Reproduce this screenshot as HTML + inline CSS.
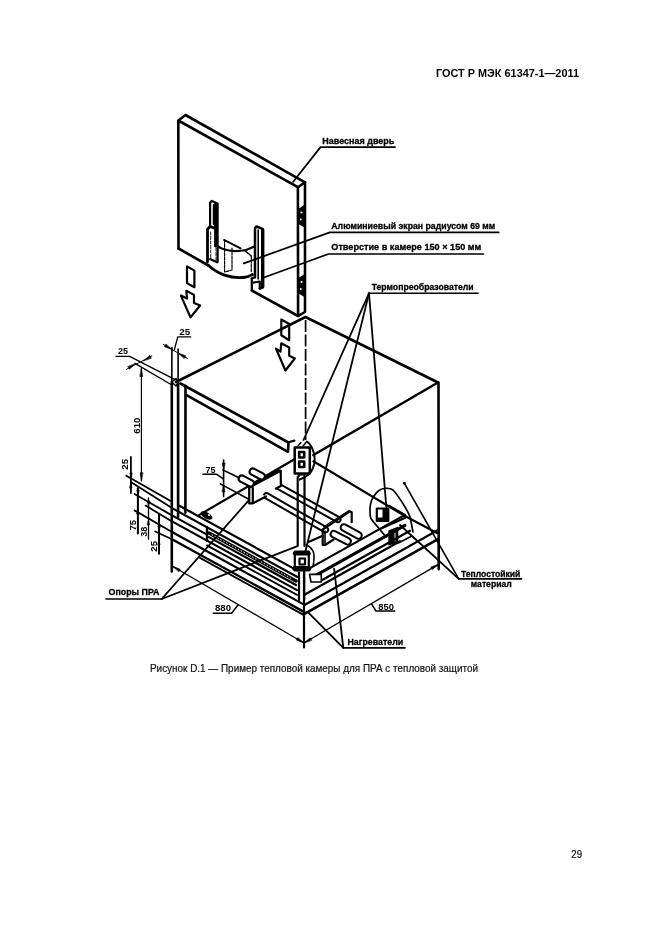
<!DOCTYPE html>
<html><head><meta charset="utf-8">
<style>
html,body{margin:0;padding:0;background:#fff;}
body{width:661px;height:936px;overflow:hidden;position:relative;}
svg{position:absolute;left:0;top:0;will-change:transform;}
</style></head>
<body>
<svg width="661" height="936" viewBox="0 0 661 936">
<g font-family="'Liberation Sans', sans-serif" fill="none" stroke="#000" stroke-linecap="round" stroke-linejoin="round">
<text x="436" y="76.5" font-size="10.4" font-weight="bold" fill="#000" textLength="143" lengthAdjust="spacingAndGlyphs" stroke="none">ГОСТ Р МЭК 61347-1—2011</text>
<text x="150" y="672" font-size="10.1" font-weight="normal" fill="#111" textLength="328" lengthAdjust="spacingAndGlyphs" stroke="#111" stroke-width="0.2">Рисунок D.1 — Пример тепловой камеры для ПРА с тепловой защитой</text>
<text x="571.3" y="857.8" font-size="10" font-weight="normal" fill="#111" textLength="10.8" lengthAdjust="spacingAndGlyphs" stroke="#111" stroke-width="0.2">29</text>
<path d="M178.5,248.5 L178.3,120.5 L185.5,115.0 L305.0,182.3 L297.9,187.2 L178.3,120.5" stroke-width="2.6" />
<path d="M297.9,187.2 L298.1,316.0 L305.0,312.0 L305.0,182.3" stroke-width="2.6" />
<path d="M251.8,290.5 L298.1,316.0" stroke-width="2.6" />
<path d="M178.5,248.5 L208.5,265.5" stroke-width="2.6" />
<path d="M251.8,278.5 L251.8,290.5" stroke-width="2.2" />
<path d="M298.5,209 L304.5,204.5 L304.5,227.5 L298.5,224 Z M298.5,278 L304.5,274 L304.5,297 L298.5,293.5 Z" fill="#000" stroke="none"/>
<g fill="#fff" stroke="none"><circle cx="301.5" cy="212.5" r="1.1"/><circle cx="300.8" cy="219.5" r="0.9"/><circle cx="301.5" cy="282" r="1.1"/><circle cx="300.8" cy="289" r="0.9"/></g>
<path d="M210.1,226.5 L210.1,202.5 L211.8,200.9 L217.6,203.5 L217.6,262.0" stroke-width="2.2" />
<path d="M213.9,205.0 L213.9,224.0" stroke-width="2.2" />
<path d="M207.5,262.0 L207.5,229.2 L210.1,226.5 L214.0,228.0" stroke-width="2.8" />
<path d="M210.1,259.1 L217.1,262.3" stroke-width="2.2" />
<path d="M215.6,204.0 L215.6,246.0" stroke-width="3.0" />
<path d="M210.7,232 V258 M216,248 V260" stroke-width="0.9" stroke-dasharray="3,1.5"/>
<path d="M208.5,265.5 C212,268.5 218,273 224.6,275.1 C230,277 238,278 244.9,277.3 C248,277 250.5,275.6 252.4,274.6" stroke-width="2.9" />
<path d="M217.6,246.3 C220,247.8 222,248.8 224.6,249.5 C229,250.6 232,251.1 235.3,251.1 C240,251 243,250.6 245.9,250 C249,249 252,247.6 254,246.8" stroke-width="2.2" />
<path d="M224.0,239.9 L240.6,248.4" stroke-width="1.8" />
<path d="M244.9,250.6 L251.3,256.0" stroke-width="1.4" />
<path d="M224.6,240 V272 L232,270 V248" stroke-width="1.2" stroke-dasharray="3,1.2"/>
<path d="M251.3,256 V272" stroke-width="1.2" stroke-dasharray="3,1.2"/>
<path d="M255.0,277.3 L255.0,228.1 L256.6,226.5 L263.0,229.2 L263.0,287.0 L259.8,288.5" stroke-width="2.5" />
<path d="M258.2,230.0 L258.2,279.0" stroke-width="1.6" />
<path d="M251.8,278.5 L255,277.3 M253.4,282.6 L259.8,281.5 L259.8,288.5" stroke-width="2.2" />
<path d="M262.6,230.0 L262.6,287.0" stroke-width="3.2" />
<path d="M187.0,266.4 L194.4,270.6 L194.4,287.2 L187.0,283.1 Z" stroke-width="2.2" />
<path d="M186.3,290.8 L194.0,294.9 L194.0,303.0 L200.1,305.5 L190.5,317.4 L180.9,295.6 L187.0,298.5 Z" stroke-width="2.2" />
<path d="M281.3,319.5 L289.2,324.0 L289.2,340.3 L281.3,335.3 Z" stroke-width="2.2" />
<path d="M281.3,343.3 L289.2,347.4 L289.2,355.8 L294.9,358.4 L285.4,370.5 L276.0,348.6 L280.5,351.6 Z" stroke-width="2.2" />
<path d="M293.2,181.8 L320.5,147.1 L395.0,147.1" stroke-width="1.8" />
<path d="M243.8,263.4 L329.8,232.4 L498.7,232.4" stroke-width="1.7" />
<path d="M263.2,277.7 L328.5,254.0 L483.5,254.0" stroke-width="1.7" />
<text x="322.3" y="143.7" font-size="9.2" font-weight="bold" fill="#000" textLength="72" lengthAdjust="spacingAndGlyphs" stroke="#000" stroke-width="0.3">Навесная дверь</text>
<text x="331.3" y="228.6" font-size="9.2" font-weight="bold" fill="#000" textLength="164" lengthAdjust="spacingAndGlyphs" stroke="#000" stroke-width="0.3">Алюминиевый экран радиусом 69 мм</text>
<text x="331.3" y="249.5" font-size="9.2" font-weight="bold" fill="#000" textLength="150" lengthAdjust="spacingAndGlyphs" stroke="#000" stroke-width="0.3">Отверстие в камере 150 × 150 мм</text>
<path d="M176.0,382.0 L305.5,317.0 L438.0,382.5 L313.4,455.0" stroke-width="2.6" />
<path d="M438.5,382.5 L438.7,569.2" stroke-width="2.6" />
<path d="M180.4,383.5 L288.5,442.5 L288.0,451.8 L186.1,394.8" stroke-width="2.6" />
<path d="M288.5,442.2 L294.4,440.6" stroke-width="2.2" />
<path d="M171.8,382.0 L171.8,571.4" stroke-width="2.6" />
<path d="M178.1,383.0 L178.1,517.0" stroke-width="2.6" />
<path d="M185.5,385.7 L185.4,512.6" stroke-width="2.6" />
<path d="M171.8,382.0 L176.0,378.5 L178.1,383.0 L176.0,386.0 Z" stroke-width="1.6" />
<path d="M171.9,347.5 L171.8,382.0" stroke-width="1.6" />
<path d="M178.1,349.0 L178.1,382.0" stroke-width="1.6" />
<path d="M305.6,320 V440" stroke-width="1.7" stroke-dasharray="12,2.5" stroke-linecap="butt"/>
<path d="M264.7,497.8 L324.7,532.3 A2.7,2.7 0 0 0 327.3,527.7 L267.3,493.2 A2.7,2.7 0 0 0 264.7,497.8 Z" stroke-width="2.0" fill="#fff"/>
<path d="M274.7,487.3 L336.7,521.8 A2.6,2.6 0 0 0 339.3,517.2 L277.3,482.7 A2.6,2.6 0 0 0 274.7,487.3 Z" stroke-width="2.0" fill="#fff"/>
<path d="M294.7,447.5 h15.1 v26.1 h-15.1 Z" stroke-width="2.5" />
<path d="M299.2,452 h5 v5.5 h-5 Z M299.2,461.5 h5 v5.5 h-5 Z" stroke-width="2.6" />
<path d="M306.8,441.5 C311,444 314.7,452 314.7,459 C314.7,467 311,473 308,475 C305,477.5 302,478.5 299.5,479.6" stroke-width="2.0" />
<path d="M298,446 L301,442.5 M303,446 L306,442.5" stroke-width="1.4" />
<path d="M297.7,546.0 L297.7,477.0 L300.0,474.5 L304.5,474.5 L304.5,546.0" stroke-width="2.2" />
<path d="M199.0,515.1 L294.4,459.2" stroke-width="2.2" />
<path d="M313.4,461.3 L405.4,516.3" stroke-width="2.2" />
<path d="M405.4,516.3 L437.0,533.0" stroke-width="2.2" />
<path d="M309.0,541.8 L322.7,535.8" stroke-width="2.2" />
<path d="M294.8,551.5 h14 v19 h-14 Z" stroke-width="2.2" />
<path d="M299.5,558.5 h5.5 v6 h-5.5 Z" stroke-width="2.2" />
<path d="M294.8,553.5 L308.8,553.5" stroke-width="4" />
<path d="M294.8,568.5 L308.8,568.5" stroke-width="5" />
<path d="M299.0,572.6 L299.0,600.0" stroke-width="2.2" />
<path d="M304.2,572.6 L304.2,600.0" stroke-width="2.2" />
<path d="M306.3,544.5 C312,548 314.5,553 314,557 C314,561 313.5,564 313,566.3" stroke-width="1.6" />
<path d="M374.2,495.8 C377,491 381,488.5 385,488.3 C389,488 391.5,488.7 393,490 C397,494 402,502 405,507 C408,512 410,516 410.5,519 L413,532" stroke-width="1.7" />
<path d="M374.2,495.8 C372,498 370.5,503 370,508 C369.8,513 370.3,517 370.8,518.3 C373,522 376,525 377.5,526.6 L386,537" stroke-width="1.7" />
<path d="M376.8,508.5 h11.5 v12.5 h-11.5 Z" stroke-width="2.2" />
<path d="M382.5,509 h6 v12 h-6 Z M376.8,517.5 h11.5 v3.5 h-11.5 Z" fill="#000" stroke="none"/>
<path d="M389.0,505.8 L405.0,515.0" stroke-width="2.2" />
<path d="M388.3,530.5 L398.3,526.5 L398.3,543 L388.3,545.5 Z" fill="#000" stroke="none"/>
<path d="M395.0,530.0 L395.0,541.0" stroke-width="0.9" stroke="#fff"/>
<path d="M381.6,528.3 L405.8,517.4" stroke-width="2.2" />
<path d="M398.3,543.0 L412.0,536.0" stroke-width="1.6" />
<path d="M249.2,487.7 L280.7,470.7 L280.9,486.0 L276.0,488.5" stroke-width="2.2" fill="#fff"/>
<path d="M249.2,487.7 L249.2,503.4 L252.8,503.4 L266.0,496.5" stroke-width="2.2" fill="#fff"/>
<path d="M252.8,488.0 L252.8,503.0" stroke-width="2.2" />
<path d="M250.5,485.5 L279.0,470.0" stroke-width="1.6" />
<path d="M240.0,481.4 L249.5,486.4 A3.3,3.3 0 0 0 252.5,480.6 L243.0,475.6 A3.3,3.3 0 0 0 240.0,481.4 Z" stroke-width="2.2" fill="#fff"/>
<path d="M251.0,474.4 L260.5,479.4 A3.3,3.3 0 0 0 263.5,473.6 L254.0,468.6 A3.3,3.3 0 0 0 251.0,474.4 Z" stroke-width="2.2" fill="#fff"/>
<path d="M322.7,529.5 L349.9,511.3 L351.7,512.2 L351.7,522.2" stroke-width="2.2" />
<path d="M323.6,526.8 L349.0,510.5" stroke-width="1.2" stroke-dasharray="1,1"/>
<path d="M322.7,529.5 L322.7,545.0 L325.0,545.0 L333.6,539.5" stroke-width="2.2" />
<path d="M325.0,531.0 L325.0,545.0" stroke-width="1.6" />
<path d="M332.0,536.9 L346.5,544.4 A3.3,3.3 0 0 0 349.5,538.6 L335.0,531.1 A3.3,3.3 0 0 0 332.0,536.9 Z" stroke-width="2.0" fill="#fff"/>
<path d="M342.4,530.4 L356.9,538.4 A3.3,3.3 0 0 0 360.1,532.6 L345.6,524.6 A3.3,3.3 0 0 0 342.4,530.4 Z" stroke-width="2.0" fill="#fff"/>
<path d="M178.0,505.0 L297.0,570.4" stroke-width="2.2" />
<path d="M172.0,508.1 L297.0,576.8" stroke-width="2.2" />
<path d="M172.0,515.4 L207.0,534.6" stroke-width="2.2" />
<path d="M172.0,521.4 L297.0,590.1" stroke-width="2.2" />
<path d="M207.0,545.4 L297.0,594.9" stroke-width="1.8" />
<path d="M172.0,532.0 L304.0,604.6" stroke-width="2.2" />
<path d="M172.0,539.3 L304.0,611.9" stroke-width="2.4" />
<path d="M200.0,557.9 L304.0,615.1" stroke-width="1.8" />
<path d="M207.0,527.3 L207.0,540.6" stroke-width="2.4" />
<path d="M209.0,533.1 L296.0,581.0" stroke-width="3.4" />
<path d="M209.0,537.1 L296.0,585.0" stroke-width="2.2" />
<path d="M212.0,534.8 L292.0,578.8" stroke-width="0.9" stroke="#fff" stroke-dasharray="0.9,2.4"/>
<ellipse cx="206.5" cy="515.5" rx="6.5" ry="3.2" fill="#000" stroke="none" transform="rotate(28 206.5 515.5)"/>
<circle cx="209" cy="515" r="1" fill="#fff" stroke="none"/>
<path d="M126.3,475.8 L172.0,501.7" stroke-width="1.8" />
<path d="M131.6,482.5 L172.0,508.1" stroke-width="1.8" />
<path d="M134.5,494.0 L172.0,515.4" stroke-width="1.8" />
<path d="M145.6,505.6 L172.0,521.4" stroke-width="1.8" />
<path d="M134.5,510.4 L172.0,532.0" stroke-width="1.8" />
<path d="M155.2,531.5 L172.0,539.3" stroke-width="1.8" />
<path d="M306.3,570.1 L403.6,515.6" stroke-width="2.2" />
<path d="M314.0,576.4 L405.0,525.4" stroke-width="3.0" />
<path d="M320.0,581.2 L410.0,530.8" stroke-width="2.2" />
<path d="M304.0,595.0 L400.0,541.2" stroke-width="2.2" />
<path d="M304.0,605.2 L438.5,529.8" stroke-width="2.2" />
<path d="M304.0,614.2 L438.5,538.8" stroke-width="2.6" />
<path d="M309.5,574.4 L321.3,574.4 L321.3,582.0 L311.0,582.0 Z" stroke-width="1.6" fill="#fff"/>
<path d="M304.0,571.8 L304.0,647.4" stroke-width="2.2" />
<path d="M369.0,293.4 L303.5,440.0" stroke-width="1.8" />
<path d="M369.0,293.4 L305.5,551.0" stroke-width="1.8" />
<path d="M369.0,293.4 L386.3,507.0" stroke-width="1.8" />
<path d="M368.4,293.2 L478.0,293.2" stroke-width="1.6" />
<text x="371.7" y="289.7" font-size="9.2" font-weight="bold" fill="#000" textLength="102" lengthAdjust="spacingAndGlyphs" stroke="#000" stroke-width="0.3">Термопреобразователи</text>
<path d="M161.7,599.0 L249.2,499.8" stroke-width="1.8" />
<path d="M161.7,599.0 L296.8,546.3" stroke-width="1.8" />
<path d="M106.0,599.0 L161.7,599.0" stroke-width="1.6" />
<text x="108.5" y="595.4" font-size="9.2" font-weight="bold" fill="#000" textLength="51" lengthAdjust="spacingAndGlyphs" stroke="#000" stroke-width="0.3">Опоры ПРА</text>
<path d="M343.3,647.9 L308.4,612.6" stroke-width="1.8" />
<path d="M343.3,647.9 L334.1,568.7" stroke-width="1.8" />
<path d="M343.3,647.9 L405.0,647.9" stroke-width="1.6" />
<text x="347.5" y="644.7" font-size="9.2" font-weight="bold" fill="#000" textLength="55.7" lengthAdjust="spacingAndGlyphs" stroke="#000" stroke-width="0.3">Нагреватели</text>
<path d="M458.7,578.9 L404.3,483.2" stroke-width="1.6" />
<path d="M458.7,578.9 L400.0,525.0" stroke-width="1.8" />
<path d="M458.7,578.9 L521.6,578.9" stroke-width="1.6" />
<circle cx="404.3" cy="483.2" r="1.4" fill="#000" stroke="none"/>
<text x="461" y="576.5" font-size="9.2" font-weight="bold" fill="#000" textLength="59.4" lengthAdjust="spacingAndGlyphs" stroke="#000" stroke-width="0.3">Теплостойкий</text>
<text x="470.8" y="586.7" font-size="9.2" font-weight="bold" fill="#000" textLength="41" lengthAdjust="spacingAndGlyphs" stroke="#000" stroke-width="0.3">материал</text>
<path d="M172.6,566.3 L304.0,643.0" stroke-width="1.3" />
<path d="M172.6,566.3 L180.2,569.2 L178.9,571.5 Z" fill="#000" stroke-width="0.6"/>
<path d="M304.0,643.0 L296.4,640.1 L297.7,637.8 Z" fill="#000" stroke-width="0.6"/>
<path d="M304.0,643.0 L438.5,564.4" stroke-width="1.3" />
<path d="M304.0,643.0 L310.3,637.8 L311.6,640.1 Z" fill="#000" stroke-width="0.6"/>
<path d="M438.5,564.4 L432.2,569.6 L430.9,567.3 Z" fill="#000" stroke-width="0.6"/>
<path d="M213.2,613.2 L231.6,613.2 L238.0,605.0" stroke-width="1.5" />
<path d="M371.7,604.1 L375.9,611.0 L394.7,611.0" stroke-width="1.5" />
<text x="215" y="611.3" font-size="9" font-weight="bold" fill="#000" textLength="16" lengthAdjust="spacingAndGlyphs" stroke="none">880</text>
<text x="378.3" y="609.6" font-size="9" font-weight="bold" fill="#000" textLength="15.7" lengthAdjust="spacingAndGlyphs" stroke="none">850</text>
<path d="M141.4,368.5 L141.4,480.8" stroke-width="1.2" />
<path d="M141.4,368.5 L142.7,376.5 L140.1,376.5 Z" fill="#000" stroke-width="0.6"/>
<path d="M141.4,480.8 L140.1,472.8 L142.7,472.8 Z" fill="#000" stroke-width="0.6"/>
<text transform="translate(140,433.8) rotate(-90)" x="0" y="0" font-size="8.5" font-weight="bold" fill="#000" textLength="16.3" lengthAdjust="spacingAndGlyphs" stroke="none">610</text>
<path d="M190.7,336.9 L177.8,336.9 L174.4,349.5" stroke-width="1.3" />
<path d="M172.0,349.5 L164.4,346.7 L165.8,344.3 Z" fill="#000" stroke-width="0.6"/>
<path d="M178.1,353.0 L185.7,355.8 L184.3,358.3 Z" fill="#000" stroke-width="0.6"/>
<path d="M163.2,344.4 L187.3,358.4" stroke-width="1.0" />
<text x="179.2" y="334.6" font-size="8.5" font-weight="bold" fill="#000" textLength="11" lengthAdjust="spacingAndGlyphs" stroke="none">25</text>
<path d="M116.0,356.4 L129.6,356.4 L175.1,379.7" stroke-width="1.3" />
<path d="M135.0,363.4 L171.4,384.8" stroke-width="1.3" />
<path d="M143.6,360.7 L149.8,355.5 L151.2,357.9 Z" fill="#000" stroke-width="0.6"/>
<path d="M135.4,363.7 L129.4,369.2 L127.9,366.8 Z" fill="#000" stroke-width="0.6"/>
<path d="M126.2,369.5 L151.8,355.9" stroke-width="1.0" />
<text x="118.1" y="354.3" font-size="8.5" font-weight="bold" fill="#000" textLength="10" lengthAdjust="spacingAndGlyphs" stroke="none">25</text>
<path d="M202.9,474.3 L216.7,474.3 L223.0,478.6" stroke-width="1.5" />
<path d="M223.6,460.0 L223.6,496.6" stroke-width="1.6" />
<path d="M223.0,470.0 L239.5,478.0" stroke-width="1.6" />
<path d="M220.4,483.9 L248.0,498.7" stroke-width="1.6" />
<path d="M223.6,470.0 L222.3,463.0 L224.9,463.0 Z" fill="#000" stroke-width="0.6"/>
<path d="M223.6,485.0 L224.9,492.0 L222.3,492.0 Z" fill="#000" stroke-width="0.6"/>
<text x="205.6" y="472.7" font-size="9" font-weight="bold" fill="#000" textLength="10" lengthAdjust="spacingAndGlyphs" stroke="none">75</text>
<path d="M130.9,457.0 L130.9,493.0" stroke-width="1.8" />
<path d="M137.9,488.3 L137.9,533.5" stroke-width="2.0" />
<path d="M148.5,497.9 L148.5,539.2" stroke-width="1.3" />
<path d="M159.0,514.2 L159.0,553.7" stroke-width="2.0" />
<path d="M130.9,478.0 L129.8,473.0 L132.0,473.0 Z" fill="#000" stroke-width="0.6"/>
<path d="M130.9,483.0 L132.0,488.0 L129.8,488.0 Z" fill="#000" stroke-width="0.6"/>
<path d="M137.9,495.0 L136.8,490.0 L139.0,490.0 Z" fill="#000" stroke-width="0.6"/>
<path d="M137.9,509.0 L139.0,514.0 L136.8,514.0 Z" fill="#000" stroke-width="0.6"/>
<path d="M148.5,506.0 L147.4,501.0 L149.6,501.0 Z" fill="#000" stroke-width="0.6"/>
<path d="M148.5,520.0 L149.6,525.0 L147.4,525.0 Z" fill="#000" stroke-width="0.6"/>
<path d="M159.0,531.0 L157.9,526.0 L160.1,526.0 Z" fill="#000" stroke-width="0.6"/>
<path d="M159.0,540.0 L160.1,545.0 L157.9,545.0 Z" fill="#000" stroke-width="0.6"/>
<text transform="translate(128.1,469.7) rotate(-90)" x="0" y="0" font-size="8.5" font-weight="bold" fill="#000" textLength="10.7" lengthAdjust="spacingAndGlyphs" stroke="none">25</text>
<text transform="translate(135.5,530.6) rotate(-90)" x="0" y="0" font-size="8.5" font-weight="bold" fill="#000" textLength="10.6" lengthAdjust="spacingAndGlyphs" stroke="none">75</text>
<text transform="translate(147,536.8) rotate(-90)" x="0" y="0" font-size="8.5" font-weight="bold" fill="#000" textLength="10.1" lengthAdjust="spacingAndGlyphs" stroke="none">38</text>
<text transform="translate(157.1,551.7) rotate(-90)" x="0" y="0" font-size="8.5" font-weight="bold" fill="#000" textLength="10.7" lengthAdjust="spacingAndGlyphs" stroke="none">25</text>
</g>
</svg>
</body></html>
